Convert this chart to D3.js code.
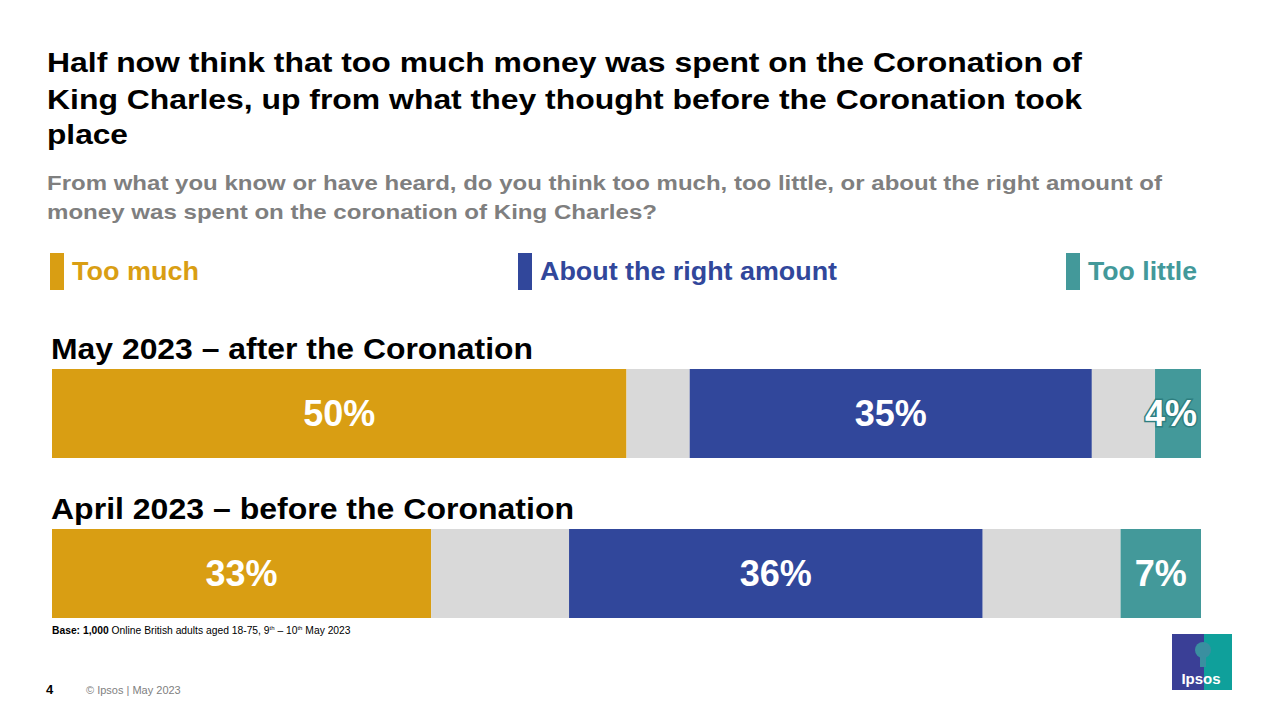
<!DOCTYPE html>
<html><head><meta charset="utf-8">
<script src="https://cdn.jsdelivr.net/npm/d3@7"></script>
<style>body{margin:0;background:#fff}svg{font-family:"Liberation Sans",Arial,sans-serif}</style>
</head><body><svg id="c" width="1280" height="720"></svg>
<script>
const periods = ["May 2023 – after the Coronation", "April 2023 – before the Coronation"];
const seriesNames = ["Too much", "About the right amount", "Too little"];
const tooMuch = [50, 33];
const rightAmount = [35, 36];
const tooLittle = [4, 7];
const colors = ["#D99E13", "#31479B", "#43999A"];
const grey = "#D9D9D9";

const svg = d3.select("#c");
const x = d3.scaleLinear().domain([0, 100]).range([52, 1201]);
const y = d3.scaleOrdinal().domain(periods).range([369, 529]);
const barH = 89;

function fit(sel, w){ sel.attr("textLength", w).attr("lengthAdjust","spacingAndGlyphs"); return sel; }

[["Half now think that too much money was spent on the Coronation of",72,1035],
 ["King Charles, up from what they thought before the Coronation took",109,1035],
 ["place",144,81]].forEach(([t,yy,w])=>fit(svg.append("text").attr("x",47).attr("y",yy)
  .attr("font-size",28).attr("font-weight","bold").attr("fill","#000").text(t),w));
[["From what you know or have heard, do you think too much, too little, or about the right amount of",190,1115],
 ["money was spent on the coronation of King Charles?",219,610]].forEach(([t,yy,w])=>fit(svg.append("text").attr("x",47).attr("y",yy)
  .attr("font-size",20.5).attr("font-weight","bold").attr("fill","#7F7F7F").text(t),w));

const legX = [50, 518, 1066];
const legW = [127, 297, 109];
seriesNames.forEach((n,i)=>{
  svg.append("rect").attr("x",legX[i]).attr("y",253).attr("width",14).attr("height",37).attr("fill",colors[i]);
  fit(svg.append("text").attr("x",legX[i]+22).attr("y",280).attr("font-size",25).attr("font-weight","bold")
    .attr("fill",colors[i]).text(n), legW[i]);
});

const rowW = [482, 523];
periods.forEach((p,i)=>{
  const y0 = y(p);
  fit(svg.append("text").attr("x",51).attr("y",y0-10).attr("font-size",29).attr("font-weight","bold").text(p), rowW[i]);
  const rest = (100 - tooMuch[i] - rightAmount[i] - tooLittle[i]) / 2;
  const segs = [
    {v:tooMuch[i], c:colors[0], lab:true},
    {v:rest, c:grey},
    {v:rightAmount[i], c:colors[1], lab:true},
    {v:rest, c:grey},
    {v:tooLittle[i], c:colors[2], lab:true}];
  let acc = 0;
  segs.forEach((s,k)=>{
    const x0 = x(acc), x1 = x(acc + s.v);
    svg.append("rect").attr("x",x0).attr("y",y0).attr("width",x1-x0).attr("height",barH).attr("fill",s.c);
    if (s.lab) {
      const small = k===4 && s.v<5;
      const t = svg.append("text").attr("x",small ? x1-4 : (x0+x1)/2).attr("y",y0+barH/2+12)
        .attr("text-anchor",small ? "end" : "middle")
        .attr("font-size",36).attr("font-weight","bold").attr("fill","#fff").text(s.v+"%");
      if (small) t.attr("stroke","#2E7F80").attr("stroke-width",3).attr("paint-order","stroke");
    }
    acc += s.v;
  });
});

const base = svg.append("text").attr("x",52).attr("y",634).attr("font-size",10.3).attr("fill","#000");
base.append("tspan").attr("font-weight","bold").text("Base: 1,000");
base.append("tspan").text(" Online British adults aged 18-75, 9");
base.append("tspan").attr("font-size",6).attr("dy",-4).text("th");
base.append("tspan").attr("dy",4).text(" – 10");
base.append("tspan").attr("font-size",6).attr("dy",-4).text("th");
base.append("tspan").attr("dy",4).text(" May 2023");
svg.append("text").attr("x",46).attr("y",694).attr("font-size",13).attr("font-weight","bold").text("4");
svg.append("text").attr("x",86).attr("y",694).attr("font-size",11).attr("fill","#7F7F7F").text("© Ipsos | May 2023");

const lg = svg.append("g");
lg.append("rect").attr("x",1172).attr("y",634).attr("width",60).attr("height",56).attr("fill","#0FA09B");
lg.append("rect").attr("x",1172).attr("y",634).attr("width",32).attr("height",56).attr("fill","#3A3F96");
lg.append("circle").attr("cx",1203).attr("cy",650).attr("r",8).attr("fill","#3A8FA0");
lg.append("rect").attr("x",1200).attr("y",655).attr("width",6).attr("height",12).attr("fill","#3A8FA0");
lg.append("text").attr("x",1201).attr("y",684).attr("text-anchor","middle").attr("font-size",15)
  .attr("font-weight","bold").attr("fill","#fff").text("Ipsos");
</script></body></html>
